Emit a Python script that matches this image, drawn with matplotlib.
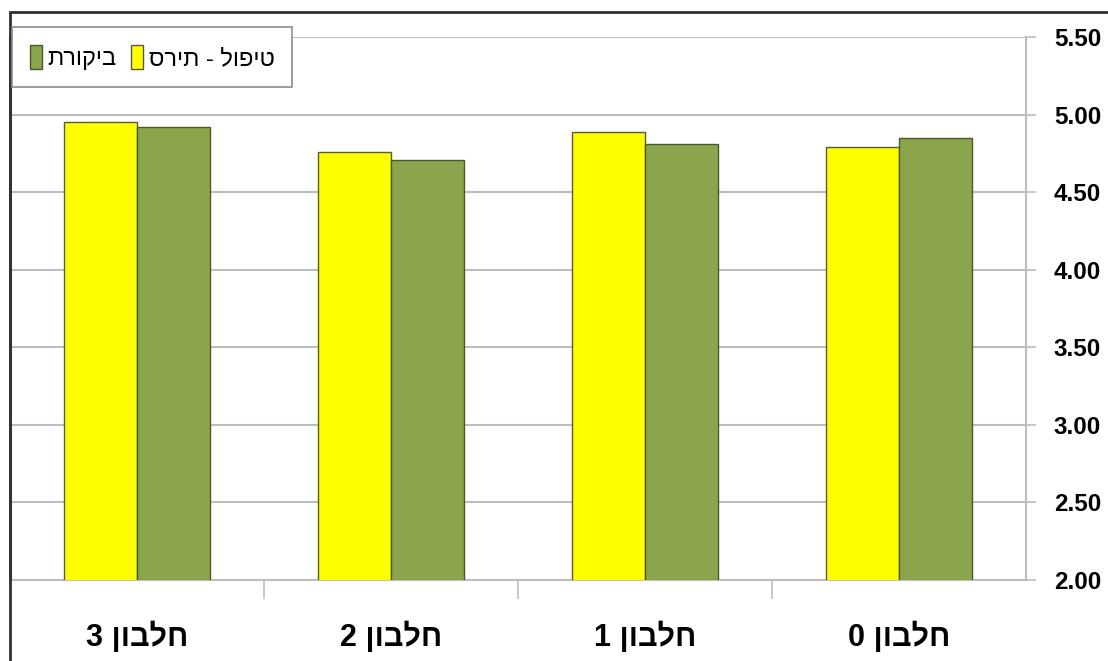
import numpy as np
import matplotlib.pyplot as plt
from matplotlib.patches import Rectangle

# Hebrew labels in logical order; reversed before drawing since matplotlib renders LTR
categories = ['חלבון 3', 'חלבון 2', 'חלבון 1', 'חלבון 0']
series_names = ['טיפול - תירס', 'ביקורת']
treatment = [4.95, 4.76, 4.89, 4.79]
control = [4.92, 4.71, 4.81, 4.85]
yticks = [2.0, 2.5, 3.0, 3.5, 4.0, 4.5, 5.0, 5.5]

yellow = '#ffff00'
green = '#8aa54c'
grid_col = '#bdbdbd'
fonts = ['Liberation Sans', 'DejaVu Sans']


def rtl(s):
    return s[::-1]


fig = plt.figure(figsize=(11.08, 6.61), dpi=100)
W, H = 1108, 661
ax = fig.add_axes([10 / W, 1 - 580 / H, (1026 - 10) / W, (580 - 37) / H])

x = np.arange(len(categories))
w = 0.287
ax.bar(x - w / 2, treatment, w, color=yellow, edgecolor='#5a5a3a', linewidth=1.0, zorder=3)
ax.bar(x + w / 2, control, w, color=green, edgecolor='#4a5a30', linewidth=1.0, zorder=3)

ax.set_xlim(-0.5, len(categories) - 0.5)
ax.set_ylim(yticks[0], yticks[-1])

# y axis on the right
ax.yaxis.tick_right()
ax.set_yticks(yticks)
ax.set_yticklabels([f'{v:.2f}' for v in yticks], fontfamily=fonts, fontweight='bold', fontsize=17.5)
ax.tick_params(axis='y', length=7, width=1.2, color=grid_col, pad=13)
ax.grid(axis='y', color=grid_col, linewidth=1.5, zorder=0)

# category labels, with separator ticks between groups
ax.set_xticks(x)
ax.set_xticklabels([rtl(c) for c in categories], fontfamily=fonts, fontweight='bold', fontsize=22)
ax.tick_params(axis='x', which='major', length=0, pad=30)
ax.set_xticks(np.arange(0.5, len(categories) - 0.5, 1.0), minor=True)
ax.tick_params(axis='x', which='minor', length=14, width=1.2, color=grid_col, direction='out')

ax.spines['top'].set_visible(False)
ax.spines['right'].set_color(grid_col)
ax.spines['right'].set_linewidth(1.5)
ax.spines['bottom'].set_color(grid_col)
ax.spines['bottom'].set_linewidth(1.5)
ax.spines['left'].set_color('#404040')
ax.spines['left'].set_linewidth(2)

# outer chart frame, cut off at the right and bottom
fig.patches.append(Rectangle((10 / W, -0.1), 1.2, 1 - 12 / H + 0.1, transform=fig.transFigure,
                             fill=False, edgecolor='#303030', linewidth=2))

handles = [Rectangle((0, 0), 1, 1, facecolor=green, edgecolor='#4a5a30'),
           Rectangle((0, 0), 1, 1, facecolor=yellow, edgecolor='#5a5a3a')]
leg = fig.legend(handles, [rtl(series_names[1]), rtl(series_names[0])], ncol=2,
                 loc='upper left', bbox_to_anchor=(12 / W, 1 - 27 / H), bbox_transform=fig.transFigure,
                 borderaxespad=0, fancybox=False, framealpha=1, edgecolor='#8c8c8c',
                 prop={'family': fonts, 'size': 17}, handlelength=0.5, handleheight=1.2,
                 handletextpad=0.25, columnspacing=0.6, borderpad=0.75)
leg.get_frame().set_linewidth(1.2)

fig.savefig('out.png', dpi=100)
